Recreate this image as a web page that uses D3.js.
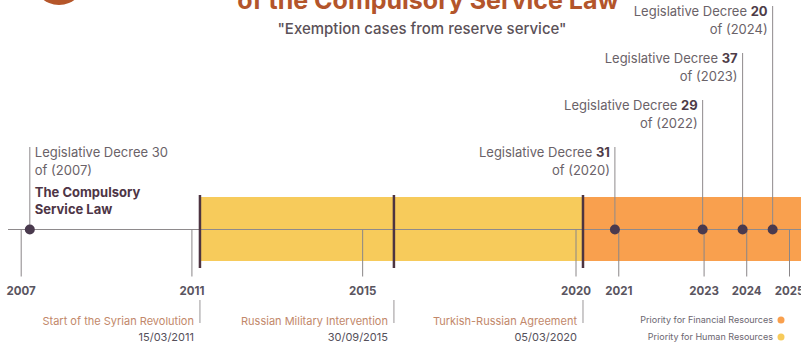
<!DOCTYPE html>
<html>
<head>
<meta charset="utf-8">
<script src="https://cdn.jsdelivr.net/npm/d3@7/dist/d3.min.js"></script>
<style>
  html, body { margin: 0; padding: 0; background: #ffffff; }
  svg { display: block; font-family: Inter, "Noto Sans", sans-serif; }
</style>
</head>
<body>
<svg id="chart" width="801" height="345"></svg>
<script>
// ---- data ----
const titleText = "of the Compulsory Service Law";
const subtitleText = "\"Exemption cases from reserve service\"";

const tickYears = [2007, 2011, 2015, 2020, 2021, 2023, 2024, 2025];

const eventNames = ["Start of the Syrian Revolution", "Russian Military Intervention", "Turkish-Russian Agreement"];
const eventDates = ["15/03/2011", "30/09/2015", "05/03/2020"];

const decreeNumbers = ["30", "31", "29", "37", "20"];
const decreeYears = ["2007", "2020", "2022", "2023", "2024"];
const decreeDates = ["2007-03-20", "2020-12-03", "2022-12-24", "2023-12-01", "2024-08-14"];
const decreeTiers = [3, 3, 2, 1, 0];
const decreeNotes = [["The Compulsory", "Service Law"], [], [], [], []];

const phaseNames = ["Priority for Human Resources", "Priority for Financial Resources"];
const phaseColors = ["#F7CB5B", "#F9A04E"];
const phaseStarts = [0, 2];   // index into eventDates

const legendOrder = [1, 0];

// ---- layout ----
const svg = d3.select("#chart");
const W = 801;
const axisY = 229.5;
const bandTop = 197, bandBottom = 261;

const parseDMY = d3.timeParse("%d/%m/%Y");
const parseISO = d3.timeParse("%Y-%m-%d");

const x = d3.scaleTime()
  .domain([new Date(2007, 0, 1), new Date(2025, 0, 1)])
  .range([20.7, 789]);

const events = eventNames.map((n, i) => ({ name: n, label: eventDates[i], date: parseDMY(eventDates[i]) }));
const decrees = decreeNumbers.map((n, i) => ({
  num: n, year: decreeYears[i], date: parseISO(decreeDates[i]), tier: decreeTiers[i], notes: decreeNotes[i]
}));

// ---- header ----
svg.append("circle")
  .attr("cx", 59).attr("cy", -21).attr("r", 26)
  .attr("fill", "#B5562A");

svg.append("text")
  .attr("x", 428).attr("y", 9)
  .attr("text-anchor", "middle")
  .attr("font-size", 25).attr("font-weight", 700)
  .attr("fill", "#B3552B")
  .text(titleText);

svg.append("text")
  .attr("x", 422).attr("y", 34)
  .attr("text-anchor", "middle")
  .attr("font-size", 15).attr("font-weight", 500)
  .attr("fill", "#5b5158")
  .text(subtitleText);

// ---- phase bands ----
const phases = phaseNames.map((n, i) => {
  const start = events[phaseStarts[i]].date;
  const nextIdx = phaseStarts[i + 1];
  return {
    name: n, color: phaseColors[i],
    x0: x(start),
    x1: nextIdx !== undefined ? x(events[nextIdx].date) : W
  };
});

svg.append("g").selectAll("rect")
  .data(phases)
  .join("rect")
  .attr("x", d => d.x0)
  .attr("y", bandTop)
  .attr("width", d => d.x1 - d.x0)
  .attr("height", bandBottom - bandTop)
  .attr("fill", d => d.color);

// ---- axis line and year ticks ----
svg.append("line")
  .attr("x1", 8).attr("x2", W)
  .attr("y1", axisY).attr("y2", axisY)
  .attr("stroke", "#8e8a8c").attr("stroke-width", 1.2);

const axis = d3.axisBottom(x)
  .tickValues(tickYears.map(y => new Date(y, 0, 1)))
  .tickFormat(d3.timeFormat("%Y"))
  .tickSize(47)
  .tickPadding(10);

const axisG = svg.append("g")
  .attr("transform", `translate(0,${axisY})`)
  .call(axis);
axisG.select(".domain").remove();
axisG.selectAll(".tick line")
  .attr("stroke", "#8a8688").attr("stroke-width", 1);
axisG.selectAll(".tick text")
  .attr("font-family", "Inter, 'Noto Sans', sans-serif")
  .attr("font-size", 11.5).attr("font-weight", 700)
  .attr("fill", "#5a5560");

// ---- event markers ----
const ev = svg.append("g").selectAll("g")
  .data(events)
  .join("g")
  .attr("transform", d => `translate(${x(d.date)},0)`);

ev.append("line")
  .attr("y1", 195).attr("y2", 268)
  .attr("stroke", "#4d3441").attr("stroke-width", 2.5);

ev.append("line")
  .attr("y1", 300).attr("y2", 323)
  .attr("stroke", "#9a9698").attr("stroke-width", 1);

ev.append("text")
  .attr("x", -6).attr("y", 325)
  .attr("text-anchor", "end")
  .attr("font-size", 11)
  .attr("fill", "#C2886A")
  .text(d => d.name);

ev.append("text")
  .attr("x", -6).attr("y", 341)
  .attr("text-anchor", "end")
  .attr("font-size", 11)
  .attr("fill", "#55505a")
  .text(d => d.label);

// ---- decree markers ----
const tierTop = t => 7 + t * 47;
const lineGap = 18;

const dg = svg.append("g").selectAll("g")
  .data(decrees)
  .join("g")
  .attr("transform", d => `translate(${x(d.date)},0)`);

dg.append("line")
  .attr("y1", d => tierTop(d.tier) - 1)
  .attr("y2", axisY)
  .attr("stroke", "#8e8a8c").attr("stroke-width", 1);

dg.append("circle")
  .attr("cy", axisY).attr("r", 5)
  .attr("fill", "#4a3a4e");

dg.each(function(d, i) {
  const g = d3.select(this);
  const leftSide = i === 0;          // the first decree is labelled to the right of its line
  const anchor = leftSide ? "start" : "end";
  const tx = leftSide ? 5 : -5;
  const base = tierTop(d.tier) + 9;

  const t1 = g.append("text")
    .attr("x", tx).attr("y", base)
    .attr("text-anchor", anchor)
    .attr("font-size", 13)
    .attr("fill", "#6a6268");
  t1.append("tspan").text("Legislative Decree ");
  t1.append("tspan")
    .attr("font-weight", leftSide ? 400 : 700)
    .attr("fill", leftSide ? "#6a6268" : "#4e3c48")
    .text(d.num);

  g.append("text")
    .attr("x", tx).attr("y", base + lineGap)
    .attr("text-anchor", anchor)
    .attr("font-size", 13)
    .attr("fill", "#6a6268")
    .text(`of (${d.year})`);

  d.notes.forEach((n, k) => {
    g.append("text")
      .attr("x", tx).attr("y", base + lineGap * 2 + 4 + k * 17)
      .attr("text-anchor", anchor)
      .attr("font-size", 13).attr("font-weight", 700)
      .attr("fill", "#4e3546")
      .text(n);
  });
});

// ---- legend ----
const legend = svg.append("g").selectAll("g")
  .data(legendOrder.map(i => phases[i]))
  .join("g")
  .attr("transform", (d, i) => `translate(0,${323 + i * 17})`);

legend.append("text")
  .attr("x", 773).attr("y", 0)
  .attr("text-anchor", "end")
  .attr("font-size", 9)
  .attr("fill", "#6b6670")
  .text(d => d.name);

legend.append("circle")
  .attr("cx", 781).attr("cy", -3).attr("r", 3.5)
  .attr("fill", d => d.color);
</script>
</body>
</html>
